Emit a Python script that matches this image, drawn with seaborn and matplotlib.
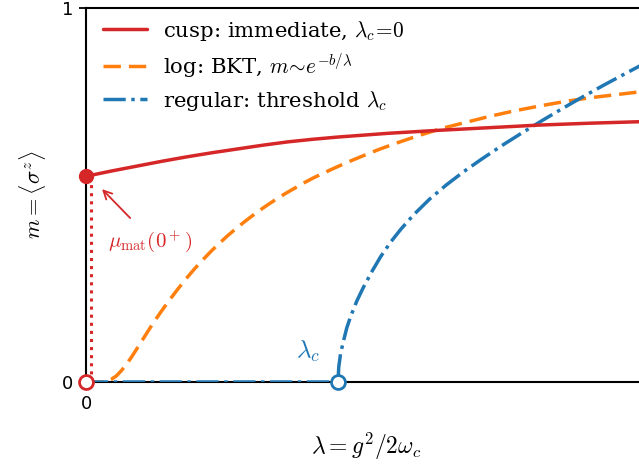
import matplotlib
matplotlib.use("Agg")
import matplotlib.pyplot as plt
import seaborn as sns

sns.set_theme(style="white")
plt.rcParams["font.family"] = ["DejaVu Sans"]
plt.rcParams["mathtext.fontset"] = "cm"
for key in ["text.color", "axes.labelcolor", "xtick.color", "ytick.color", "axes.edgecolor"]:
    plt.rcParams[key] = "black"

# coupling axis lambda (units of lambda_c) and order parameter m for the three scenarios
lam_cusp = [0.0, 0.1, 0.2, 0.3, 0.4, 0.5, 0.6, 0.7, 0.8, 0.9, 1.0,
            1.2, 1.4, 1.6, 1.8, 2.0, 2.2]
m_cusp = [0.550, 0.564, 0.577, 0.590, 0.602, 0.613, 0.623, 0.633, 0.642, 0.649, 0.655,
          0.665, 0.673, 0.680, 0.687, 0.692, 0.696]

lam_log = [0.0, 0.06, 0.08, 0.10, 0.12, 0.14, 0.16, 0.18, 0.20, 0.233, 0.266, 0.30,
           0.33, 0.365, 0.397, 0.43, 0.464, 0.50, 0.528, 0.56, 0.595, 0.63, 0.663,
           0.70, 0.726, 0.76, 0.794, 0.83, 0.861, 0.90, 0.95, 0.992, 1.05, 1.10,
           1.167, 1.25, 1.33, 1.417, 1.50, 1.60, 1.70, 1.80, 1.90, 2.00, 2.10, 2.20]
m_log = [0.000, 0.000, 0.002, 0.007, 0.016, 0.030, 0.047, 0.066, 0.087, 0.122, 0.157,
         0.190, 0.218, 0.249, 0.276, 0.302, 0.327, 0.352, 0.370, 0.390, 0.410, 0.429,
         0.446, 0.464, 0.476, 0.491, 0.505, 0.519, 0.531, 0.545, 0.561, 0.574, 0.591,
         0.605, 0.623, 0.643, 0.661, 0.679, 0.693, 0.710, 0.725, 0.738, 0.750, 0.760,
         0.768, 0.776]

lam_reg = [0.0, 1.0, 1.003, 1.01, 1.02, 1.035, 1.05, 1.075, 1.10, 1.135, 1.17, 1.21,
           1.25, 1.30, 1.365, 1.43, 1.50, 1.57, 1.65, 1.73, 1.81, 1.89, 1.97, 2.05,
           2.13, 2.20]
m_reg = [0.000, 0.000, 0.040, 0.075, 0.105, 0.145, 0.175, 0.217, 0.252, 0.296, 0.336,
         0.375, 0.409, 0.447, 0.490, 0.527, 0.563, 0.596, 0.632, 0.666, 0.699, 0.731,
         0.762, 0.792, 0.821, 0.846]

lam_c = 1.0
m_jump = 0.55

red, orange, blue = "#d62728", "#ff7f0e", "#1f77b4"

fig = plt.figure(figsize=(6.39, 4.65), dpi=100)
ax = fig.add_axes([86 / 639, 83 / 465, 560 / 639, 374 / 465])

sns.lineplot(x=lam_cusp, y=m_cusp, ax=ax, color=red, lw=2.5,
             label=r"cusp: immediate, $\lambda_c\!=\!0$", sort=False, zorder=4)
sns.lineplot(x=lam_log, y=m_log, ax=ax, color=orange, lw=2.5,
             label=r"log: BKT, $m\!\sim\! e^{-b/\lambda}$", sort=False, zorder=3)
ax.lines[-1].set_dashes((5, 2.3))
sns.lineplot(x=lam_reg, y=m_reg, ax=ax, color=blue, lw=2.5, linestyle="-.",
             label=r"regular: threshold $\lambda_c$", sort=False, zorder=3)

# jump of the cusp case at lambda = 0+
ax.plot([0.018, 0.018], [0, m_jump], color=red, lw=2.2, linestyle=":", zorder=2)
ax.plot([0], [m_jump], "o", color=red, ms=10, zorder=6, clip_on=False)
ax.plot([0], [0], "o", mfc="white", mec=red, mew=2, ms=10, zorder=6, clip_on=False)
ax.plot([lam_c], [0], "o", mfc="white", mec=blue, mew=2, ms=10, zorder=6, clip_on=False)

ax.annotate("", xy=(0.056, 0.521), xytext=(0.183, 0.433),
            arrowprops=dict(arrowstyle="->", color=red, lw=1.3, mutation_scale=15))
ax.text(0.255, 0.377, r"$\mu_{\rm mat}(0^+)$", color=red, fontsize=15,
        ha="center", va="center")
ax.text(0.88, 0.082, r"$\lambda_c$", color=blue, fontsize=18, ha="center", va="center")

ax.set_xlim(0, 560 / 252)
ax.set_ylim(0, 1)
ax.set_xticks([0])
ax.set_xticklabels(["0"])
ax.set_yticks([0, 1])
ax.set_yticklabels(["0", "1"])
ax.tick_params(axis="both", labelsize=13, length=5, width=1.3, direction="out",
               bottom=True, left=True, pad=4)
ax.set_xlabel(r"$\lambda = g^2/2\omega_c$", fontsize=17, labelpad=13)
ax.set_ylabel(r"$m = \langle\sigma^z\rangle$", fontsize=16, labelpad=10)

for side in ["left", "bottom", "top"]:
    ax.spines[side].set_visible(True)
    ax.spines[side].set_linewidth(1.5)
ax.spines["right"].set_visible(False)

ax.legend(loc="upper left", bbox_to_anchor=(6 / 560, 1.0), frameon=False,
          prop={"family": "DejaVu Serif", "size": 15.3},
          handlelength=2.1, handletextpad=0.72, labelspacing=0.42,
          borderaxespad=0.2, borderpad=0.3)

fig.savefig("out.png", dpi=100)
